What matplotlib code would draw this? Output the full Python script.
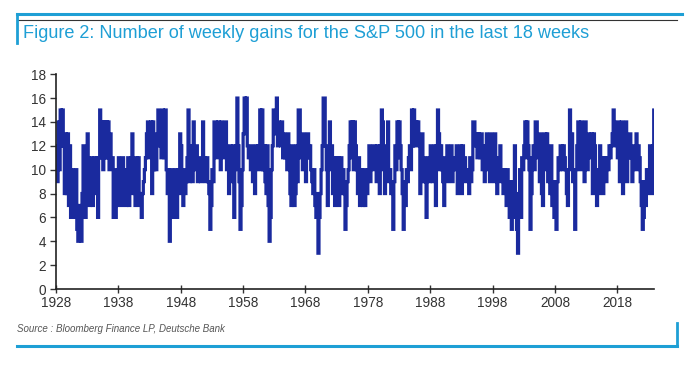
import numpy as np
import matplotlib
matplotlib.use('Agg')
import matplotlib.pyplot as plt
from matplotlib.lines import Line2D

# number of up weeks in the trailing 18 weeks
# six readings per year (roughly every two months), 1928 .. 2023
FIRST_YEAR = 1928
PER_YEAR = 6
gains_1928_1947 = [
    12, 9, 14, 10, 15, 12,
    15, 12, 8, 13, 8, 13,
    7, 12, 6, 10, 7, 9,
    6, 10, 5, 4, 7, 5,
    4, 8, 12, 10, 6, 8,
    13, 11, 7, 10, 11, 7,
    10, 11, 8, 11, 6, 11,
    15, 11, 14, 10, 14, 11,
    14, 11, 14, 10, 13, 11,
    11, 6, 10, 6, 9, 7,
    11, 8, 10, 7, 11, 8,
    10, 7, 9, 11, 7, 10,
    11, 13, 8, 9, 7, 11,
    8, 11, 7, 8, 6, 8,
    9, 10, 11, 13, 14, 11,
    12, 14, 8, 14, 10, 12,
    10, 13, 15, 12, 14, 11,
    15, 13, 11, 15, 10, 8,
    10, 4, 8, 10, 6, 9,
    7, 10, 6, 10, 8, 13,
]
gains_1948_1967 = [
    12, 9, 7, 10, 8, 9,
    11, 15, 9, 12, 10, 9,
    14, 10, 11, 12, 9, 10,
    11, 9, 10, 14, 11, 9,
    10, 11, 9, 8, 5, 7,
    10, 9, 14, 14, 11, 13,
    14, 12, 10, 14, 12, 11,
    13, 14, 10, 11, 8, 12,
    11, 9, 12, 6, 10, 12,
    16, 12, 9, 5, 7, 10,
    13, 16, 14, 16, 12, 11,
    11, 10, 12, 9, 11, 8,
    12, 10, 12, 11, 15, 10,
    15, 10, 12, 9, 8, 12,
    7, 4, 6, 10, 12, 15,
    13, 14, 16, 12, 14, 13,
    12, 14, 11, 13, 11, 12,
    10, 13, 11, 8, 7, 12,
    10, 7, 8, 12, 9, 15,
    15, 11, 12, 10, 13, 11,
]
gains_1968_1987 = [
    9, 11, 13, 11, 12, 10,
    9, 8, 10, 7, 6, 8,
    3, 6, 8, 10, 12, 16,
    16, 12, 10, 7, 11, 14,
    10, 12, 8, 11, 7, 11,
    8, 11, 7, 10, 11, 8,
    10, 8, 5, 7, 9, 10,
    12, 14, 11, 14, 10, 14,
    12, 10, 8, 11, 7, 10,
    8, 7, 10, 7, 9, 8,
    10, 12, 9, 11, 10, 12,
    12, 11, 9, 12, 10, 8,
    12, 15, 14, 10, 8, 12,
    11, 14, 9, 10, 8, 9,
    5, 9, 12, 10, 14, 11,
    14, 12, 10, 8, 5, 9,
    7, 10, 9, 11, 12, 10,
    15, 12, 15, 12, 14, 13,
    14, 12, 8, 10, 13, 9,
    11, 9, 6, 10, 11, 9,
]
gains_1988_2007 = [
    12, 10, 9, 11, 12, 7,
    12, 15, 13, 10, 12, 10,
    9, 7, 11, 10, 12, 9,
    11, 10, 12, 9, 11, 10,
    10, 12, 8, 11, 9, 12,
    8, 12, 10, 11, 9, 10,
    10, 8, 11, 9, 10, 14,
    14, 12, 13, 11, 13, 12,
    11, 13, 10, 12, 9, 11,
    13, 10, 12, 9, 13, 11,
    12, 9, 13, 10, 8, 11,
    10, 12, 9, 10, 8, 10,
    9, 7, 10, 8, 6, 9,
    5, 9, 7, 12, 6, 5,
    3, 8, 10, 6, 11, 10,
    12, 14, 11, 14, 12, 10,
    5, 8, 11, 12, 10, 14,
    14, 11, 12, 9, 13, 8,
    7, 12, 13, 10, 13, 9,
    11, 8, 12, 7, 9, 6,
]
gains_2008_2023 = [
    7, 5, 9, 11, 10, 12,
    12, 10, 12, 11, 10, 8,
    7, 10, 15, 11, 13, 9,
    10, 5, 10, 12, 14, 11,
    10, 14, 11, 12, 9, 14,
    12, 10, 13, 11, 12, 13,
    8, 13, 12, 10, 7, 10,
    8, 12, 9, 11, 8, 11,
    10, 9, 11, 10, 12, 11,
    12, 13, 15, 14, 12, 13,
    11, 14, 9, 12, 14, 8,
    12, 10, 14, 9, 11, 12,
    13, 11, 9, 10, 12, 11,
    13, 10, 12, 11, 9, 7,
    5, 6, 9, 7, 10, 8,
    10, 12, 11, 8, 12, 15,
]

x_ticks = [1928, 1938, 1948, 1958, 1968, 1978, 1988, 1998, 2008, 2018]
y_ticks = list(range(0, 19, 2))

TITLE = 'Figure 2: Number of weekly gains for the S&P 500 in the last 18 weeks'
SOURCE = 'Source : Bloomberg Finance LP, Deutsche Bank'

LINE_COLOR = '#1a2a9e'
FRAME_BLUE = '#1e9fd5'
TEXT_GREY = '#333333'

plt.rcParams['font.family'] = ['Liberation Sans', 'DejaVu Sans']


def main():
    gains = np.array(gains_1928_1947 + gains_1948_1967 + gains_1968_1987
                     + gains_1988_2007 + gains_2008_2023, dtype=float)
    dates = FIRST_YEAR + np.arange(len(gains)) / PER_YEAR

    fig = plt.figure(figsize=(7.0, 3.71), dpi=100)
    ax = fig.add_axes([0.08, 0.221, 0.854, 0.579])

    ax.plot(dates, gains, color=LINE_COLOR, lw=2.3, drawstyle='steps-post',
            solid_joinstyle='miter')

    ax.set_xlim(1928, 2023.85)
    ax.set_ylim(0, 18)
    ax.set_xticks(x_ticks)
    ax.set_yticks(y_ticks)
    ax.tick_params(axis='both', labelsize=9.8, colors=TEXT_GREY, length=4,
                   width=1, pad=3)
    ax.tick_params(axis='x', direction='inout', length=6, pad=2)
    for side in ('top', 'right'):
        ax.spines[side].set_visible(False)
    for side in ('left', 'bottom'):
        ax.spines[side].set_color('#222222')
        ax.spines[side].set_linewidth(1.2)

    # report frame: blue rule on top, thin dark rule, blue rule at the bottom
    px = lambda x: x / 700
    py = lambda y: 1 - y / 371
    frame = [
        ([px(17), px(682)], [py(14), py(14)], FRAME_BLUE, 2.2),
        ([px(17), px(677)], [py(20), py(20)], '#333333', 0.8),
        ([px(17), px(17)], [py(14), py(43)], FRAME_BLUE, 2.0),
        ([px(17), px(677)], [py(346), py(346)], FRAME_BLUE, 2.2),
        ([px(677), px(677)], [py(323), py(346)], FRAME_BLUE, 2.0),
    ]
    for xs, ys, col, lw in frame:
        fig.add_artist(Line2D(xs, ys, color=col, lw=lw,
                              transform=fig.transFigure))

    fig.text(px(23), py(33), TITLE, color=FRAME_BLUE, fontsize=13.1,
             va='center', ha='left')
    fig.text(px(17), py(329), SOURCE, color='#555555', fontsize=7,
             style='italic', va='center', ha='left')

    fig.savefig('out.png', dpi=100)
    plt.close(fig)


if __name__ == '__main__':
    main()
